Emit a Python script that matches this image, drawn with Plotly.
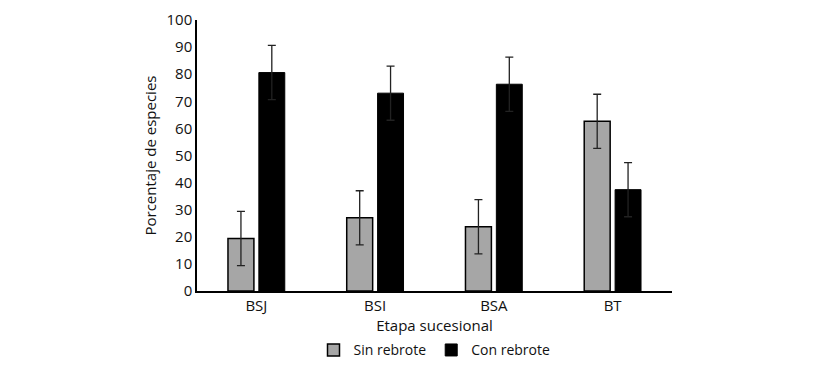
import plotly.graph_objects as go

categories = ["BSJ", "BSI", "BSA", "BT"]
sin_rebrote = [19.4, 27.0, 23.7, 62.6]
con_rebrote = [80.6, 73.0, 76.3, 37.4]
sin_err = [10, 10, 10, 10]
con_err = [10, 10, 10, 10]

font_family = "Open Sans, Liberation Sans, Arial, sans-serif"

fig = go.Figure()
fig.add_trace(go.Bar(
    x=categories, y=sin_rebrote, name="Sin rebrote",
    marker=dict(color="#a6a6a6", line=dict(color="#000000", width=1.5)),
    error_y=dict(type="data", array=sin_err, visible=True, color="#222222", thickness=1.3, width=4),
))
fig.add_trace(go.Bar(
    x=categories, y=con_rebrote, name="Con rebrote",
    marker=dict(color="#000000", line=dict(color="#000000", width=1)),
    error_y=dict(type="data", array=con_err, visible=True, color="#222222", thickness=1.3, width=4),
))

fig.update_layout(
    width=817, height=376,
    margin=dict(l=189, r=153, t=12, b=93, autoexpand=False),
    paper_bgcolor="white", plot_bgcolor="white",
    font=dict(family=font_family, size=15, color="#111111"),
    barmode="group", bargap=0.48, bargroupgap=0.16,
    showlegend=True,
    legend=dict(orientation="h", x=0.5, xanchor="center", y=-0.16, yanchor="top",
                font=dict(size=14), itemwidth=30, tracegroupgap=0),
    xaxis=dict(
        title=dict(text="Etapa sucesional", standoff=4, font=dict(size=15)),
        showline=True, linecolor="#000000", linewidth=1.5, automargin=False,
        ticks="", showgrid=False, tickfont=dict(size=15),
    ),
    yaxis=dict(
        title=dict(text="Porcentaje de especies", standoff=6, font=dict(size=15)),
        range=[0, 100], dtick=10, showline=True, linecolor="#000000", linewidth=1.5,
        automargin=False, ticks="", showgrid=False, zeroline=False, tickfont=dict(size=15),
        ticklabeloverflow="allow",
    ),
)

fig.write_html("out.html")
